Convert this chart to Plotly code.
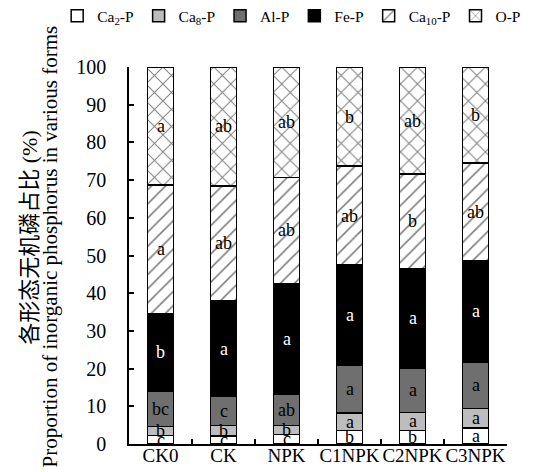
import plotly.graph_objects as go
import numpy as np

categories = ["CK0", "CK", "NPK", "C1NPK", "C2NPK", "C3NPK"]
series_names = ["Ca<sub>2</sub>-P", "Ca<sub>8</sub>-P", "Al-P", "Fe-P", "Ca<sub>10</sub>-P", "O-P"]

ca2_p = [2.3, 2.1, 2.5, 3.6, 3.6, 4.3]
ca8_p = [2.4, 2.8, 2.4, 4.6, 4.8, 5.1]
al_p = [9.3, 7.7, 8.4, 12.7, 11.8, 12.4]
fe_p = [20.6, 25.3, 29.3, 26.6, 26.4, 26.8]
ca10_p = [34.1, 30.6, 28.1, 26.2, 25.0, 25.9]
o_p = [31.3, 31.5, 29.3, 26.3, 28.4, 25.5]

ca2_sig = ["c", "c", "c", "b", "b", "a"]
ca8_sig = ["b", "b", "b", "a", "a", "a"]
al_sig = ["bc", "c", "ab", "a", "a", "a"]
fe_sig = ["b", "a", "a", "a", "a", "a"]
ca10_sig = ["a", "ab", "ab", "ab", "b", "ab"]
o_sig = ["a", "ab", "ab", "b", "ab", "b"]

y_ticks = [0, 10, 20, 30, 40, 50, 60, 70, 80, 90, 100]

title_cn = "各形态无机磷占比 (%)"
title_en = "Proportion of inorganic phosphorus in various forms"

values = [ca2_p, ca8_p, al_p, fe_p, ca10_p, o_p]
sigs = [ca2_sig, ca8_sig, al_sig, fe_sig, ca10_sig, o_sig]
fills = ["white", "#bdbdbd", "#6f6f6f", "black", "white", "white"]
patterns = ["", "", "", "", "/", "x"]
pattern_sizes = [0, 0, 0, 0, 10, 12]
text_colors = ["black", "black", "black", "white", "black", "black"]

FONT = "Liberation Serif, Times New Roman, serif"

fig = go.Figure()
for name, vals, fill, pat, ps in zip(series_names, values, fills, patterns, pattern_sizes):
    marker = dict(color=fill, line=dict(color="black", width=1.5))
    if pat:
        marker["pattern"] = dict(shape=pat, fgcolor="black", bgcolor="white",
                                 size=ps, solidity=0.16)
    fig.add_trace(go.Bar(x=categories, y=vals, name=name, marker=marker))

cum = np.zeros(len(categories))
for vals, sig, tc in zip(values, sigs, text_colors):
    v = np.array(vals, dtype=float)
    mids = cum + v / 2
    for cat, m, s in zip(categories, mids, sig):
        fig.add_annotation(x=cat, y=m, text=s, showarrow=False,
                           font=dict(family=FONT, size=18, color=tc))
    cum = cum + v

# y-axis title lines
fig.add_annotation(xref="paper", yref="paper", x=-0.262, y=0.547, text=title_cn,
                   textangle=-90, showarrow=False, xanchor="center", yanchor="middle",
                   font=dict(family="Liberation Serif, Noto Sans CJK SC", size=22, color="black"))
fig.add_annotation(xref="paper", yref="paper", x=-0.208, y=0.525, text=title_en,
                   textangle=-90, showarrow=False, xanchor="center", yanchor="middle",
                   font=dict(family=FONT, size=21, color="black"))

fig.update_layout(
    barmode="stack",
    bargap=0.59,
    width=539, height=472,
    margin=dict(l=121, r=40, t=59, b=36, autoexpand=False),
    paper_bgcolor="white", plot_bgcolor="white",
    font=dict(family=FONT, size=20, color="black"),
    legend=dict(orientation="h", traceorder="normal", xref="paper", x=-0.19,
                xanchor="left", yref="paper", y=1.135, yanchor="middle",
                font=dict(family=FONT, size=15.5), itemwidth=30, borderwidth=0,
                bgcolor="rgba(0,0,0,0)"),
    showlegend=True,
)
fig.update_xaxes(showline=True, linecolor="black", linewidth=1.5, tickangle=0,
                 ticks="inside", tickson="boundaries", ticklen=5, tickcolor="black",
                 tickwidth=1.5, showgrid=False, ticklabelstandoff=-7,
                 tickfont=dict(size=19, family=FONT))
fig.update_yaxes(range=[0, 100], tickvals=y_ticks, showline=True, linecolor="black",
                 linewidth=1.5, ticks="inside", ticklen=5, tickcolor="black", tickwidth=1.5,
                 showgrid=False, zeroline=False, ticklabelstandoff=17,
                 tickfont=dict(size=20, family=FONT))

fig.write_html("out.html")
